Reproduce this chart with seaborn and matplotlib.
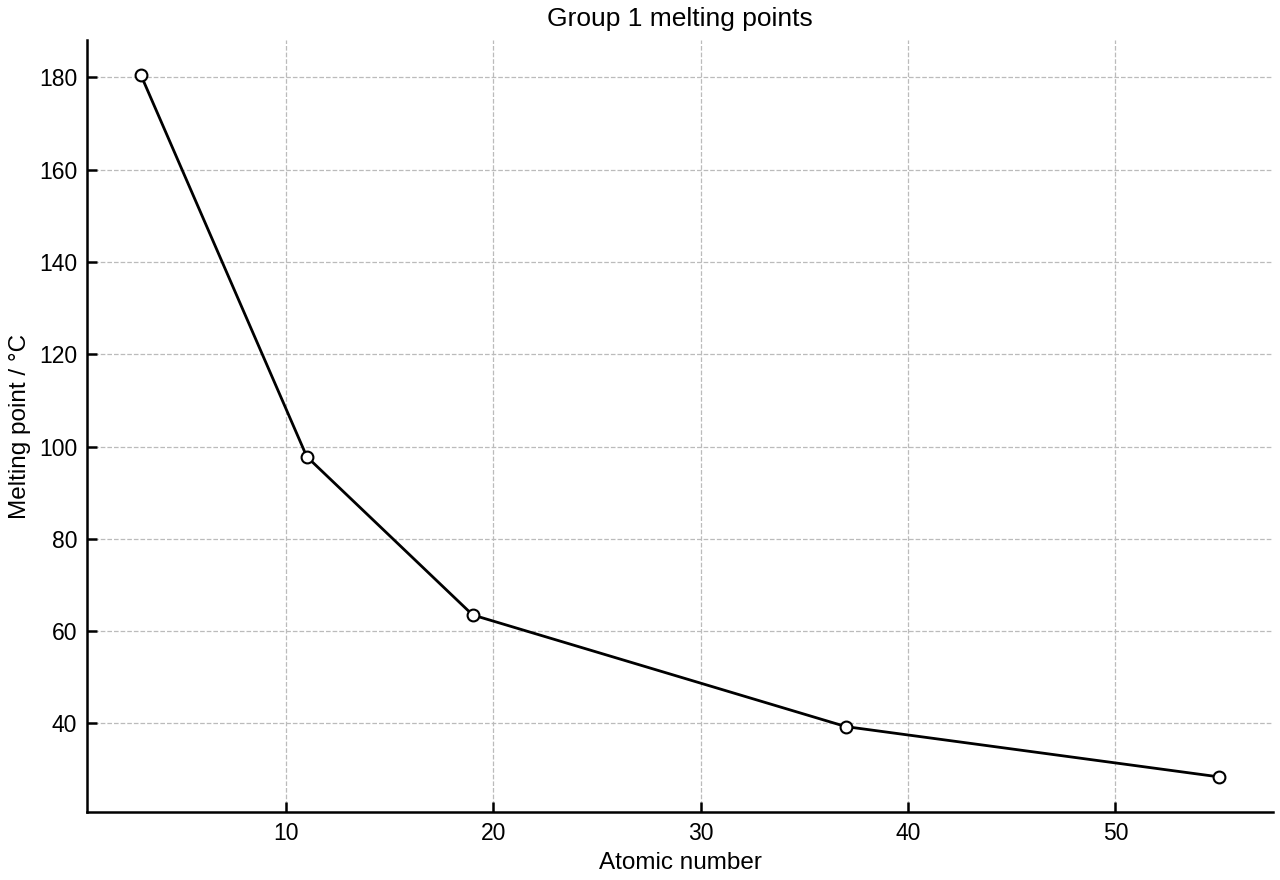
import seaborn as sns
import matplotlib.pyplot as plt
import pandas as pd

# group 1 metals: atomic number vs melting point
atomic_number = [3, 11, 19, 37, 55]
melting_point = [180.5, 97.8, 63.5, 39.3, 28.4]

df = pd.DataFrame({"Atomic number": atomic_number, "Melting point": melting_point})

sns.set_theme(style="ticks")
plt.rcParams['font.family'] = ['Liberation Sans', 'DejaVu Sans']
plt.rcParams['xtick.direction'] = 'in'
plt.rcParams['ytick.direction'] = 'in'
plt.rcParams['text.color'] = 'black'
plt.rcParams['axes.labelcolor'] = 'black'
plt.rcParams['xtick.labelcolor'] = 'black'
plt.rcParams['ytick.labelcolor'] = 'black'

fig, ax = plt.subplots(figsize=(12.8, 8.8), dpi=100)
fig.subplots_adjust(left=0.068, right=0.9945, top=0.9545, bottom=0.0773)

sns.lineplot(data=df, x="Atomic number", y="Melting point", ax=ax,
             color="black", linewidth=2, marker="o", markersize=8.5,
             markerfacecolor="white", markeredgecolor="black", markeredgewidth=1.5)

ax.grid(True, linestyle="--", color="#bbbbbb", linewidth=0.9)
sns.despine(ax=ax)
for s in ["left", "bottom"]:
    ax.spines[s].set_linewidth(1.8)
    ax.spines[s].set_color("black")
ax.tick_params(axis="both", labelsize=16.5, length=7, width=1.8, color="black", pad=7)

ax.set_xlabel("Atomic number", fontsize=17.5, labelpad=5)
ax.set_ylabel("Melting point / °C", fontsize=17.5, labelpad=6)
ax.set_title("Group 1 melting points", fontsize=19, pad=10)

fig.savefig("out.png", dpi=100)
